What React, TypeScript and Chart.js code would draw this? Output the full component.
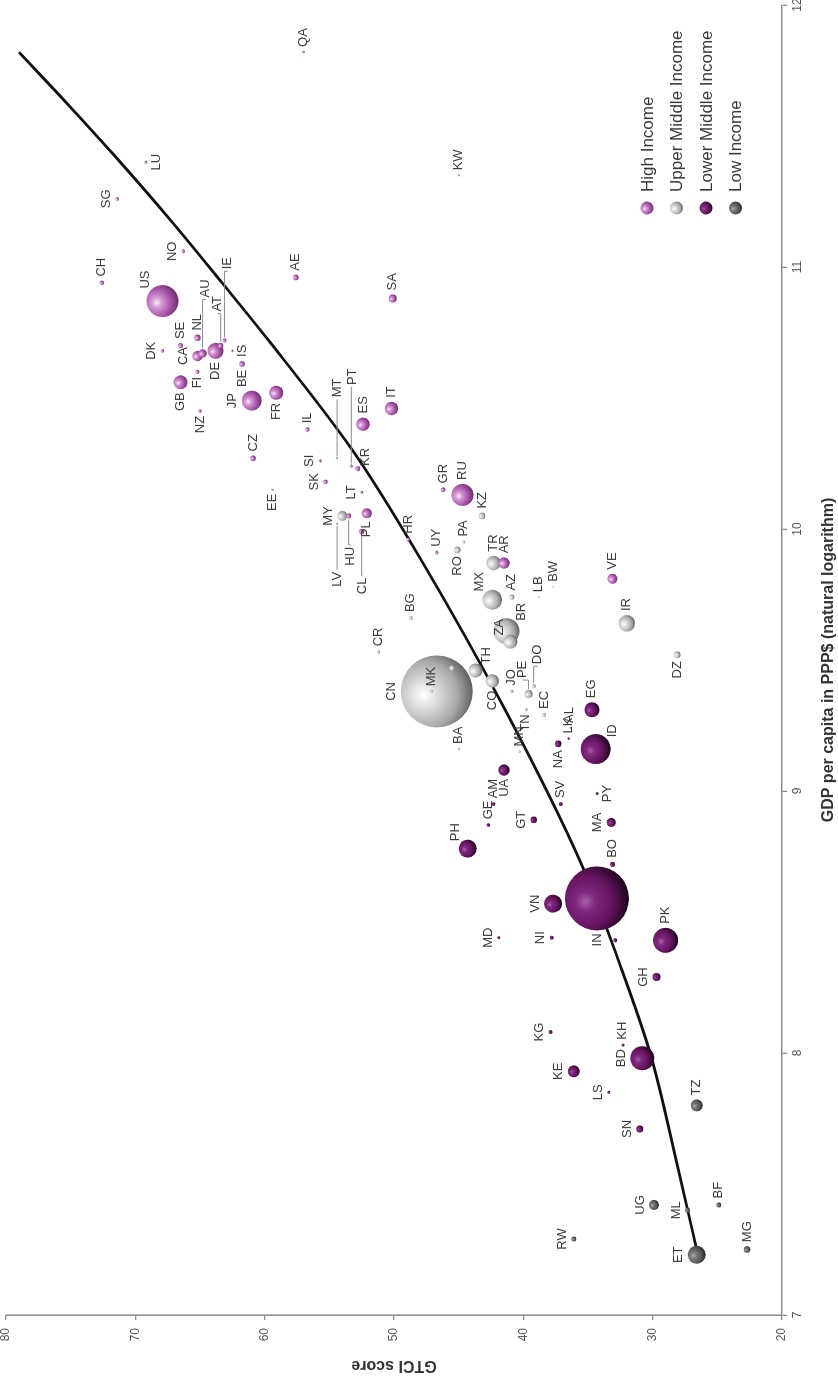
import { useEffect, useRef } from 'react';
import { Chart, registerables } from 'chart.js';

Chart.register(...registerables);

// [country code, GDP per capita (ln PPP$), GTCI score, bubble radius]
type Row = [string, number, number, number];

const HIGH_INCOME: Row[] = [
  ['QA', 11.82, 57.0, 1.2], ['LU', 11.4, 69.2, 1.5], ['SG', 11.26, 71.4, 1.8],
  ['NO', 11.06, 66.3, 1.8], ['CH', 10.94, 72.6, 2.2], ['US', 10.87, 67.9, 16],
  ['AE', 10.96, 57.6, 2.8], ['SA', 10.88, 50.1, 4], ['SE', 10.7, 66.5, 2.5],
  ['NL', 10.73, 65.2, 3.2], ['AU', 10.67, 64.8, 4.2], ['AT', 10.7, 63.4, 2.6],
  ['IE', 10.72, 63.1, 2], ['DK', 10.68, 67.9, 1.8], ['CA', 10.66, 65.2, 5.2],
  ['DE', 10.68, 63.8, 8], ['IS', 10.68, 62.5, 1.2], ['BE', 10.63, 61.75, 2.8],
  ['FI', 10.6, 65.2, 2], ['GB', 10.56, 66.5, 7], ['NZ', 10.45, 65.0, 1.8],
  ['JP', 10.49, 61.0, 10], ['FR', 10.52, 59.1, 7], ['IL', 10.38, 56.7, 2.2],
  ['CZ', 10.27, 60.9, 2.8], ['EE', 10.15, 59.4, 1], ['SI', 10.26, 55.7, 1.5],
  ['SK', 10.18, 55.3, 2.2], ['MT', 10.27, 54.4, 1], ['PT', 10.24, 53.3, 1.5],
  ['KR', 10.23, 52.8, 2.5], ['ES', 10.4, 52.4, 6.7], ['IT', 10.46, 50.2, 6.7],
  ['LT', 10.14, 52.5, 1.5], ['HU', 10.05, 53.5, 2.5], ['LV', 10.02, 54.4, 1],
  ['CL', 9.99, 52.5, 2.7], ['PL', 10.06, 52.1, 5], ['HR', 9.96, 48.9, 1.8],
  ['GR', 10.15, 46.2, 2.3], ['RU', 10.13, 44.7, 11], ['UY', 9.91, 46.7, 1.8],
  ['KW', 11.35, 45.0, 1], ['AR', 9.87, 41.5, 5.7], ['VE', 9.81, 33.1, 5],
];

const UPPER_MIDDLE_INCOME: Row[] = [
  ['CN', 9.38, 46.7, 36], ['MK', 9.38, 47.1, 1.2], ['', 9.47, 45.5, 3],
  ['MY', 10.05, 54.0, 5], ['KZ', 10.05, 43.2, 3.3], ['PA', 9.95, 44.6, 1.5],
  ['RO', 9.92, 45.1, 3.3], ['TR', 9.87, 42.3, 7.3], ['MX', 9.73, 42.4, 10],
  ['AZ', 9.74, 40.9, 2.5], ['LB', 9.74, 38.8, 0.8], ['BW', 9.78, 37.7, 0.8],
  ['BR', 9.61, 41.3, 13], ['ZA', 9.57, 41.0, 7], ['TH', 9.46, 43.7, 7],
  ['CO', 9.42, 42.4, 6.7], ['JO', 9.38, 40.9, 1.8], ['PE', 9.37, 39.6, 4],
  ['DO', 9.4, 39.2, 2], ['EC', 9.29, 38.4, 2], ['TN', 9.31, 39.8, 1.5],
  ['IR', 9.64, 32.0, 8.3], ['DZ', 9.52, 28.1, 3.3], ['BA', 9.16, 45.0, 1.2],
  ['MN', 9.15, 40.3, 1.2], ['BG', 9.66, 48.7, 2], ['CR', 9.53, 51.2, 1.8],
  ['AL', 9.24, 36.4, 1.2],
];

const LOWER_MIDDLE_INCOME: Row[] = [
  ['UA', 9.08, 41.5, 5.7], ['NA', 9.18, 37.3, 3.3], ['LK', 9.2, 36.5, 1.2],
  ['ID', 9.16, 34.4, 15], ['EG', 9.31, 34.7, 7.5], ['SV', 8.95, 37.1, 2],
  ['PY', 8.99, 34.3, 1.5], ['AM', 8.95, 42.3, 1.8], ['GE', 8.87, 42.7, 1.8],
  ['GT', 8.89, 39.2, 3.3], ['MA', 8.88, 33.2, 4.5], ['PH', 8.78, 44.3, 9],
  ['BO', 8.72, 33.1, 2.5], ['VN', 8.57, 37.7, 9], ['IN', 8.59, 34.3, 32],
  ['MD', 8.44, 41.9, 1.5], ['NI', 8.44, 37.8, 2], ['', 8.43, 32.9, 2],
  ['PK', 8.43, 29.0, 12.5], ['GH', 8.29, 29.7, 4], ['KG', 8.08, 37.9, 2],
  ['KE', 7.93, 36.1, 6], ['BD', 7.98, 30.8, 12], ['KH', 8.03, 32.3, 1.5],
  ['LS', 7.85, 33.4, 1.5], ['SN', 7.71, 31.0, 3.5],
];

const LOW_INCOME: Row[] = [
  ['TZ', 7.8, 26.6, 6], ['UG', 7.42, 29.9, 5], ['ML', 7.4, 27.3, 2.5],
  ['BF', 7.42, 24.9, 2.5], ['RW', 7.29, 36.1, 2.5], ['MG', 7.25, 22.7, 3.3],
  ['ET', 7.23, 26.6, 9],
];

// Fitted trend of GTCI against ln GDP per capita
const TREND_GDP = [7.23, 7.55, 8.0, 8.36, 8.72, 9.3, 9.89, 10.3, 10.72, 10.94, 11.18, 11.43, 11.62, 11.82];
const TREND_GTCI = [26.5, 28.0, 30.2, 32.7, 35.5, 41.3, 48.0, 53.2, 59.7, 63.3, 67.3, 71.7, 75.2, 79.0];

const X_TICKS = [7, 8, 9, 10, 11, 12];
const Y_TICKS = [20, 30, 40, 50, 60, 70, 80];

const FONT = "'Liberation Sans', Arial, Helvetica, sans-serif";

// Shading ramps for the spheres: highlight -> body -> rim
const SHADES: Record<string, [number, string][]> = {
  high: [[0, '#fbeefb'], [0.22, '#d69cd6'], [0.6, '#ab58ab'], [1, '#6a2b6a']],
  upper: [[0, '#ffffff'], [0.28, '#dcdcdc'], [0.68, '#a9a9a9'], [1, '#5e5e5e']],
  lower: [[0, '#a862a8'], [0.22, '#80287f'], [0.6, '#64145f'], [1, '#170617']],
  low: [[0, '#b0b0b0'], [0.25, '#7a7a7a'], [0.65, '#555555'], [1, '#262626']],
};

// Label placement around each mark; plain codes are relative to the mark,
// objects put the label further out with a leader line.
type Spot = string | { dx: number; dy: number; align: 'left' | 'right' };
const LABEL_SPOTS: Record<string, Spot> = {
  LU: 'b', SG: 't', NO: 't', US: 'tr', DK: 't', CA: 't', GB: 'l', FI: 'l', NZ: 'l',
  BE: 'l', IS: 'b', JP: 't', FR: 'l', DE: 'l', EE: 'l', SI: 't', SK: 't', LT: 't', MY: 't',
  PL: 'l', KR: 'br', CN: 't', UA: 'l', NA: 'l', ID: 'br', PY: 'b', GT: 't', MA: 't',
  PH: 'tr', VN: 't', IN: 'l', MD: 't', NI: 't', GH: 't', KG: 't', KE: 't', BD: 't',
  LS: 't', SN: 't', UG: 't', ML: 't', RW: 't', ET: 't', RO: 'l', MX: 'tr', BR: 'br',
  TH: 'br', CO: 'l', TN: 'l', DZ: 'l', ZA: 'tr',
  AU: { dx: 56, dy: 3, align: 'left' }, AT: { dx: 34, dy: -3, align: 'left' },
  IE: { dx: 71, dy: 3, align: 'left' }, MT: { dx: 61, dy: 0, align: 'left' },
  PT: { dx: 81, dy: 1, align: 'left' }, LV: { dx: -48, dy: 0, align: 'right' },
  HU: { dx: -31, dy: 2, align: 'right' }, CL: { dx: -46, dy: 1, align: 'right' },
  PE: { dx: 16, dy: -6, align: 'left' }, DO: { dx: 22, dy: 4, align: 'left' },
};

function sphere(ctx: CanvasRenderingContext2D, x: number, y: number, r: number, stops: [number, string][]) {
  const hx = x - 0.1 * r;
  const hy = y - 0.36 * r;
  const g = ctx.createRadialGradient(hx, hy, 0, hx, hy, r * 1.38);
  stops.forEach(([o, c]) => g.addColorStop(o, c));
  return g;
}

const sphereFill = (stops: [number, string][]) => (c: any) => {
  const chart = c.chart;
  const raw = c.raw;
  if (!raw || !chart.chartArea) return stops[2][1];
  const x = chart.scales.x.getPixelForValue(raw.x);
  const y = chart.scales.y.getPixelForValue(raw.y);
  return sphere(chart.ctx, x, y, raw.r, stops);
};

const toPoints = (rows: Row[]) =>
  rows
    .map(([code, x, y, r]) => ({ x, y, r, code }))
    .sort((a, b) => b.r - a.r);

const labelPlugin = {
  id: 'countryLabels',
  afterDatasetsDraw(chart: any) {
    const ctx = chart.ctx as CanvasRenderingContext2D;
    ctx.save();
    ctx.font = `13px ${FONT}`;
    ctx.fillStyle = '#3c3c3c';
    ctx.strokeStyle = '#8c8c8c';
    ctx.lineWidth = 1;
    chart.data.datasets.forEach((ds: any, di: number) => {
      if (ds.type === 'line') return;
      const meta = chart.getDatasetMeta(di);
      meta.data.forEach((el: any, i: number) => {
        const p = ds.data[i];
        if (!p.code) return;
        const { x, y } = el;
        const r = p.r;
        const spot = LABEL_SPOTS[p.code] ?? 'r';
        const g = 3;
        ctx.textBaseline = 'middle';
        if (typeof spot === 'object') {
          const lx = x + spot.dx;
          const ly = y + spot.dy;
          ctx.beginPath();
          const sx = spot.dx > 0 ? x + r + 1 : x - r - 1;
          const ex = spot.dx > 0 ? lx - 2 : lx + 2;
          ctx.moveTo(sx, y);
          ctx.lineTo(ex, y);
          ctx.lineTo(ex, ly);
          ctx.stroke();
          ctx.textAlign = spot.align;
          ctx.fillText(p.code, lx, ly);
          return;
        }
        const d = r * 0.72;
        switch (spot) {
          case 't': ctx.textAlign = 'center'; ctx.fillText(p.code, x, y - r - g - 6); break;
          case 'b': ctx.textAlign = 'center'; ctx.fillText(p.code, x, y + r + g + 6); break;
          case 'l': ctx.textAlign = 'right'; ctx.fillText(p.code, x - r - g, y); break;
          case 'tr': ctx.textAlign = 'left'; ctx.fillText(p.code, x + d + 1, y - d - 6); break;
          case 'br': ctx.textAlign = 'left'; ctx.fillText(p.code, x + d + 1, y + d + 6); break;
          case 'tl': ctx.textAlign = 'right'; ctx.fillText(p.code, x - d - 1, y - d - 6); break;
          case 'bl': ctx.textAlign = 'right'; ctx.fillText(p.code, x - d - 1, y + d + 6); break;
          default: ctx.textAlign = 'left'; ctx.fillText(p.code, x + r + g + 1, y);
        }
      });
    });
    ctx.restore();
  },
};

const LEGEND_ORDER = ['High Income', 'Upper Middle Income', 'Lower Middle Income', 'Low Income'];

const legendPlugin = {
  id: 'sphereLegend',
  afterDraw(chart: any) {
    const ctx = chart.ctx as CanvasRenderingContext2D;
    const area = chart.chartArea;
    const mx = area.right - 203;
    const y0 = area.bottom - 135;
    ctx.save();
    ctx.font = `17px ${FONT}`;
    ctx.fillStyle = '#3a3a3a';
    ctx.textBaseline = 'middle';
    ctx.textAlign = 'left';
    LEGEND_ORDER.forEach((label, i) => {
      const ds = chart.data.datasets.find((d: any) => d.label === label);
      if (!ds) return;
      const y = y0 + i * 29.5;
      ctx.beginPath();
      ctx.arc(mx, y, 6.5, 0, Math.PI * 2);
      ctx.fillStyle = sphere(ctx, mx, y, 6.5, ds.shades);
      ctx.fill();
      ctx.fillStyle = '#3a3a3a';
      ctx.fillText(label, mx + 16, y + 1);
    });
    ctx.restore();
  },
};

export default function App() {
  const ref = useRef<HTMLCanvasElement | null>(null);

  useEffect(() => {
    if (!ref.current) return;
    const group = (label: string, rows: Row[], shades: [number, string][], order: number) => ({
      label,
      data: toPoints(rows),
      shades,
      order,
      backgroundColor: sphereFill(shades),
      borderWidth: 0,
      hoverBorderWidth: 0,
    });

    const axisColor = '#8d8d8d';
    const chart = new Chart(ref.current, {
      type: 'bubble',
      data: {
        datasets: [
          group('High Income', HIGH_INCOME, SHADES.high, 1) as any,
          group('Low Income', LOW_INCOME, SHADES.low, 2),
          group('Lower Middle Income', LOWER_MIDDLE_INCOME, SHADES.lower, 3),
          group('Upper Middle Income', UPPER_MIDDLE_INCOME, SHADES.upper, 4),
          {
            type: 'line',
            label: 'Trend',
            data: TREND_GDP.map((x, i) => ({ x, y: TREND_GTCI[i] })),
            borderColor: '#111111',
            borderWidth: 2.8,
            pointRadius: 0,
            fill: false,
            cubicInterpolationMode: 'monotone',
            order: 10,
          } as any,
        ],
      },
      options: {
        responsive: false,
        devicePixelRatio: 1,
        animation: false,
        events: [],
        layout: { autoPadding: false, padding: { top: 6, right: 5, bottom: 0, left: 0 } },
        plugins: { legend: { display: false }, tooltip: { enabled: false } },
        scales: {
          x: {
            type: 'linear',
            min: 7,
            max: 12,
            afterBuildTicks: (s: any) => { s.ticks = X_TICKS.map((value) => ({ value })); },
            afterFit: (s: any) => {
              s.height = 56;
              s.paddingLeft = 0; s.paddingRight = 0; s.paddingTop = 0; s.paddingBottom = 0;
            },
            ticks: { color: '#555', font: { size: 12, family: FONT }, padding: 3, maxRotation: 0 },
            grid: { drawOnChartArea: false, tickLength: 5, color: axisColor, lineWidth: 1.3 },
            border: { color: axisColor, width: 1.6 },
            title: {
              display: true,
              text: 'GDP per capita in PPP$ (natural logarithm)',
              color: '#333',
              font: { size: 16, weight: 'bold', family: FONT },
              padding: { top: 9, bottom: 0 },
            },
          },
          y: {
            type: 'linear',
            min: 20,
            max: 80,
            afterBuildTicks: (s: any) => { s.ticks = Y_TICKS.map((value) => ({ value })); },
            afterFit: (s: any) => {
              s.width = 71;
              s.paddingLeft = 0; s.paddingRight = 0; s.paddingTop = 0; s.paddingBottom = 0;
            },
            ticks: { color: '#555', font: { size: 12, family: FONT }, padding: 8 },
            grid: { drawOnChartArea: false, tickLength: 5, color: axisColor, lineWidth: 1.3 },
            border: { color: axisColor, width: 1.6 },
            title: {
              display: true,
              text: 'GTCI score',
              color: '#333',
              font: { size: 16, weight: 'bold', family: FONT },
              padding: { top: 11.4, bottom: 0 },
            },
          },
        },
      },
      plugins: [labelPlugin, legendPlugin],
    });
    return () => chart.destroy();
  }, []);

  return (
    <div style={{ position: 'fixed', left: 0, top: 0, width: 838, height: 1386, overflow: 'hidden', background: '#fff' }}>
      <div
        style={{
          position: 'absolute', left: 0, top: 0, width: 1386, height: 838,
          transformOrigin: '0 0', transform: 'translate(0px, 1386px) rotate(-90deg)',
        }}
      >
        <canvas ref={ref} width={1386} height={838} style={{ display: 'block', width: 1386, height: 838 }} />
      </div>
    </div>
  );
}
